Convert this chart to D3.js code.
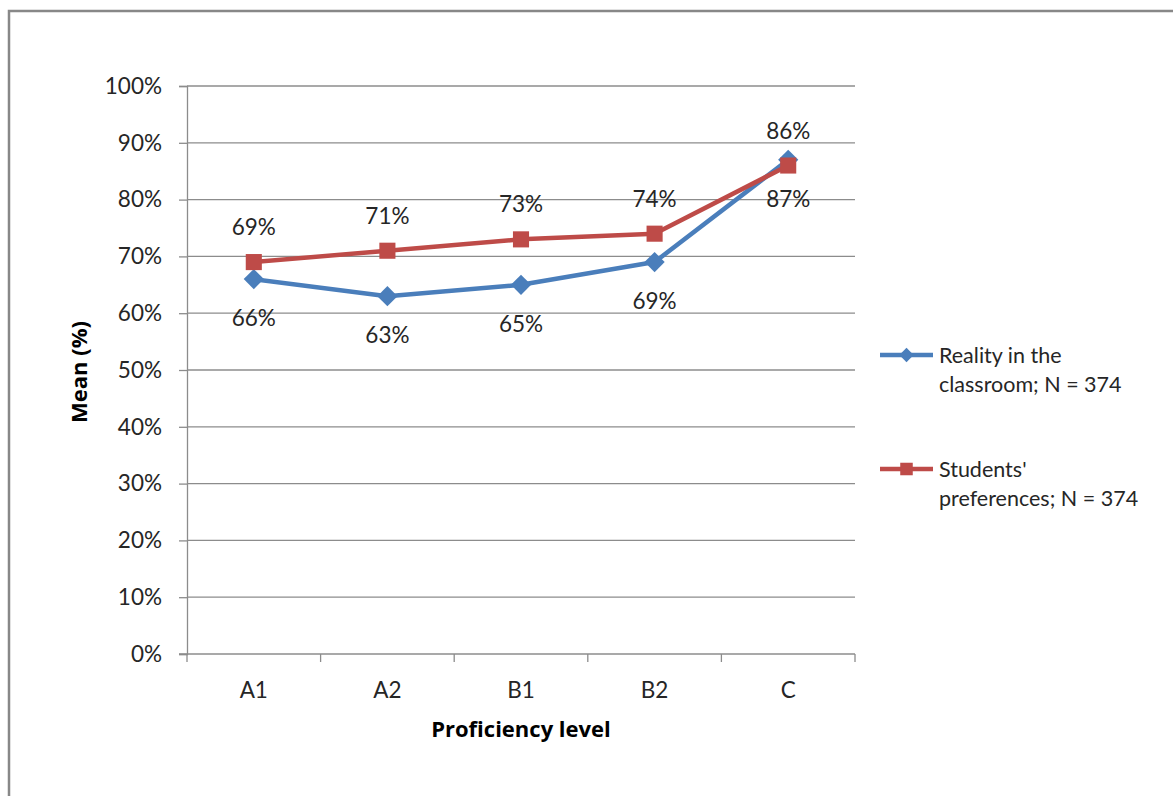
<!DOCTYPE html>
<html>
<head>
<meta charset="utf-8">
<script src="https://cdn.jsdelivr.net/npm/d3@7"></script>
<style>
  html, body { margin: 0; padding: 0; background: #fff; }
  svg { display: block; font-family: "Lato", "Open Sans", sans-serif; }
</style>
</head>
<body>
<svg id="chart" width="1173" height="796"></svg>
<script>
const categories = ["A1", "A2", "B1", "B2", "C"];
const realityValues = [0.66, 0.63, 0.65, 0.69, 0.87];
const preferenceValues = [0.69, 0.71, 0.73, 0.74, 0.86];
const yTicks = [0, 0.1, 0.2, 0.3, 0.4, 0.5, 0.6, 0.7, 0.8, 0.9, 1.0];
const seriesNames = [["Reality in the", "classroom; N = 374"], ["Students'", "preferences; N = 374"]];

const svg = d3.select("#chart");
const plot = { left: 187, right: 855, top: 86, bottom: 654 };
const gridColor = "#8c8c8c";
const textColor = "#262626";
const labelSize = 22.5;

// outer chart frame
svg.append("rect")
  .attr("x", 9).attr("y", 11)
  .attr("width", 1200).attr("height", 820)
  .attr("fill", "#fff").attr("stroke", "#888").attr("stroke-width", 2.5);

const x = d3.scaleBand().domain(categories).range([plot.left, plot.right]);
const y = d3.scaleLinear().domain([0, 1]).range([plot.bottom, plot.top]);
const fmt = d3.format(".0%");

// horizontal gridlines
svg.append("g").selectAll("line").data(yTicks.slice(1)).join("line")
  .attr("x1", plot.left).attr("x2", plot.right)
  .attr("y1", d => y(d)).attr("y2", d => y(d))
  .attr("stroke", gridColor).attr("stroke-width", 1.3);

// y axis
const yAxis = svg.append("g")
  .attr("transform", `translate(${plot.left},0)`)
  .call(d3.axisLeft(y).tickValues(yTicks).tickFormat(fmt).tickSize(8).tickPadding(17));
yAxis.select(".domain").attr("stroke", gridColor).attr("stroke-width", 1.3);
yAxis.selectAll(".tick line").attr("stroke", gridColor).attr("stroke-width", 1.3);
yAxis.selectAll(".tick text")
  .attr("font-size", labelSize).attr("fill", textColor).attr("font-family", "Lato, sans-serif");

// x axis with tick marks between categories
const xAxis = svg.append("g").attr("transform", `translate(0,${plot.bottom})`);
xAxis.append("line")
  .attr("x1", plot.left - 8).attr("x2", plot.right)
  .attr("stroke", gridColor).attr("stroke-width", 1.3);
const bounds = categories.map(c => x(c)).concat([x(categories[categories.length - 1]) + x.bandwidth()]);
xAxis.selectAll("line.tk").data(bounds).join("line").attr("class", "tk")
  .attr("x1", d => d).attr("x2", d => d).attr("y1", 0).attr("y2", 8)
  .attr("stroke", gridColor).attr("stroke-width", 1.3);
xAxis.selectAll("text").data(categories).join("text")
  .attr("x", d => x(d) + x.bandwidth() / 2).attr("y", 44)
  .attr("text-anchor", "middle").attr("font-size", labelSize).attr("fill", textColor)
  .text(d => d);

// axis titles
svg.append("text")
  .attr("transform", "translate(87,372) rotate(-90)")
  .attr("text-anchor", "middle").attr("font-size", 22).attr("font-weight", "bold")
  .attr("font-family", "'Open Sans', sans-serif")
  .attr("fill", "#000").text("Mean (%)");
svg.append("text")
  .attr("x", (plot.left + plot.right) / 2).attr("y", 737)
  .attr("text-anchor", "middle").attr("font-size", 22).attr("font-weight", "bold")
  .attr("font-family", "'Open Sans', sans-serif")
  .attr("fill", "#000").text("Proficiency level");

const cx = c => x(c) + x.bandwidth() / 2;
const series = [
  { values: realityValues, color: "#4a7ebb", marker: "diamond", labelDy: 47 },
  { values: preferenceValues, color: "#be4b48", marker: "square", labelDy: -27 }
];

const diamond = d3.symbol().type(d3.symbolDiamond2).size(260);
const square = d3.symbol().type(d3.symbolSquare2).size(330);

const line = d3.line().x((d, i) => cx(categories[i])).y(d => y(d));

series.forEach(s => {
  const g = svg.append("g");
  g.append("path").datum(s.values)
    .attr("d", line).attr("fill", "none")
    .attr("stroke", s.color).attr("stroke-width", 4.5).attr("stroke-linejoin", "round");
  g.selectAll("path.m").data(s.values).join("path").attr("class", "m")
    .attr("transform", (d, i) => `translate(${cx(categories[i])},${y(d)})`)
    .attr("d", s.marker === "diamond" ? diamond : square)
    .attr("fill", s.color);
});

// value labels
series.forEach(s => {
  svg.append("g").selectAll("text").data(s.values).join("text")
    .attr("x", (d, i) => cx(categories[i]))
    .attr("y", d => y(d) + s.labelDy)
    .attr("text-anchor", "middle").attr("font-size", labelSize).attr("fill", textColor)
    .text(d => fmt(d));
});

// legend
const legendY = [355, 469];
series.forEach((s, i) => {
  const g = svg.append("g");
  g.append("line").attr("x1", 880).attr("x2", 933)
    .attr("y1", legendY[i]).attr("y2", legendY[i])
    .attr("stroke", s.color).attr("stroke-width", 4.5);
  g.append("path")
    .attr("transform", `translate(906.5,${legendY[i]})`)
    .attr("d", s.marker === "diamond" ? d3.symbol().type(d3.symbolDiamond2).size(130)
                                       : d3.symbol().type(d3.symbolSquare2).size(200))
    .attr("fill", s.color);
  seriesNames[i].forEach((t, j) => {
    g.append("text").attr("x", 939).attr("y", legendY[i] + 8 + j * 29)
      .attr("font-size", 21.5).attr("fill", textColor).text(t);
  });
});
</script>
</body>
</html>
